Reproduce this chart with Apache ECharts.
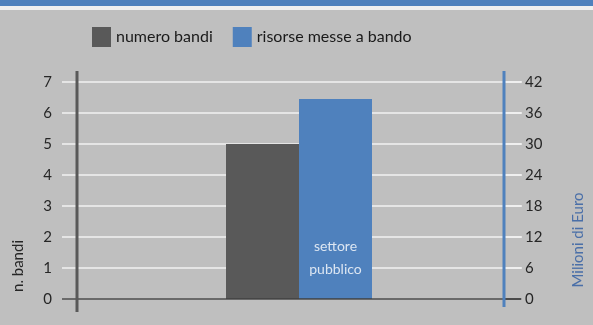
<!DOCTYPE html>
<html><head><meta charset="utf-8">
<script src="https://cdn.jsdelivr.net/npm/echarts@6/dist/echarts.min.js"></script>
<style>html,body{margin:0;padding:0;background:#bfbfbf;}#c{width:593px;height:325px;}</style>
</head><body><div id="c"></div>
<script>
const categories = ['settore pubblico'];
const seriesNames = ['numero bandi', 'risorse messe a bando'];
const numeroBandi = [5];
const risorse = [38.7];
const leftTicks = {min: 0, max: 7, interval: 1};
const rightTicks = {min: 0, max: 42, interval: 6};
const leftAxisName = 'n. bandi';
const rightAxisName = 'Milioni di Euro';

const FONT = 'Lato';
const chart = echarts.init(document.getElementById('c'));
chart.setOption({
  backgroundColor: '#bfbfbf',
  animation: false,
  textStyle: {fontFamily: FONT},
  legend: {
    left: 87, top: 22, itemWidth: 19, itemHeight: 20, itemGap: 20,
    icon: 'rect',
    textStyle: {fontFamily: FONT, fontSize: 16, color: '#1a1a1a'},
    data: seriesNames
  },
  grid: {left: 77, right: 72, top: 82, bottom: 26},
  xAxis: {
    type: 'category', data: categories, z: 3,
    axisLine: {lineStyle: {color: '#404040', width: 1.5}},
    axisTick: {show: false}, axisLabel: {show: false}
  },
  yAxis: [
    {
      type: 'value', min: leftTicks.min, max: leftTicks.max, interval: leftTicks.interval,
      axisLine: {show: false},
      axisTick: {show: true, length: 15, lineStyle: {color: '#f2f2f2', width: 1.5}},
      axisLabel: {margin: 25, fontSize: 15, color: '#262626', fontFamily: FONT},
      splitLine: {lineStyle: {color: '#f2f2f2', width: 1.5}}
    },
    {
      type: 'value', position: 'right', offset: -17,
      min: rightTicks.min, max: rightTicks.max, interval: rightTicks.interval,
      axisLine: {show: false},
      axisTick: {show: true, length: 18, lineStyle: {color: '#f2f2f2', width: 1.5}},
      axisLabel: {margin: 21, fontSize: 15, color: '#262626', fontFamily: FONT},
      splitLine: {show: false}
    }
  ],
  series: [
    {
      name: seriesNames[0], type: 'bar', yAxisIndex: 0, data: numeroBandi,
      barWidth: 73, barGap: '0%', itemStyle: {color: '#595959'}
    },
    {
      name: seriesNames[1], type: 'bar', yAxisIndex: 1, data: risorse,
      barWidth: 73, barGap: '0%', itemStyle: {color: '#4f81bd'},
      label: {
        show: true, position: 'insideBottom', distance: 18,
        formatter: p => p.name.replace(' ', '\n'),
        color: '#dce6f2', fontSize: 14, lineHeight: 23, fontFamily: FONT
      }
    }
  ],
  graphic: [
    {type: 'rect', shape: {x: 0, y: 0, width: 593, height: 6}, style: {fill: '#4f81bd'}},
    {type: 'rect', shape: {x: 0, y: 6, width: 593, height: 4}, style: {fill: '#f0f0f0'}},
    {type: 'line', shape: {x1: 77, y1: 71, x2: 77, y2: 312}, style: {stroke: '#595959', lineWidth: 3}, z: 10},
    {type: 'line', shape: {x1: 504, y1: 71, x2: 504, y2: 307}, style: {stroke: '#4f81bd', lineWidth: 3}, z: 10},
    {type: 'line', shape: {x1: 62, y1: 299, x2: 77, y2: 299}, style: {stroke: '#404040', lineWidth: 1.5}, z: 9},
    {type: 'line', shape: {x1: 504, y1: 299, x2: 521, y2: 299}, style: {stroke: '#404040', lineWidth: 1.5}, z: 9},
    {type: 'text', x: 18, y: 266, rotation: Math.PI / 2,
      style: {text: leftAxisName, fontFamily: FONT, fontSize: 15, fill: '#262626', align: 'center', verticalAlign: 'middle'}},
    {type: 'text', x: 578, y: 240, rotation: Math.PI / 2,
      style: {text: rightAxisName, fontFamily: FONT, fontSize: 15, fill: '#4a6fa8', align: 'center', verticalAlign: 'middle'}}
  ]
});
</script></body></html>
